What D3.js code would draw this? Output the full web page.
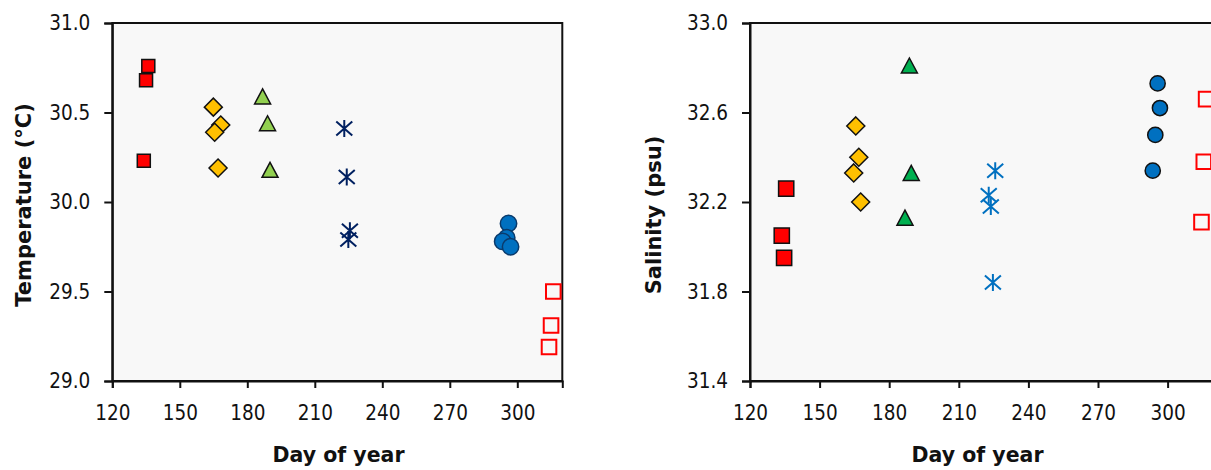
<!DOCTYPE html>
<html><head><meta charset="utf-8">
<script src="https://cdn.jsdelivr.net/npm/d3@7"></script>
<style>body{margin:0;background:#fff}svg{display:block}</style>
</head><body>
<svg id="c" width="1211" height="470"></svg>
<script>
// ---- data ----
const xTicks = [120, 150, 180, 210, 240, 270, 300];
const tempTicks = [29.0, 29.5, 30.0, 30.5, 31.0];
const salTicks = [31.4, 31.8, 32.2, 32.6, 33.0];

const tempSquareDay = [136, 135, 134];
const tempSquareVal = [30.76, 30.68, 30.23];
const tempDiamondDay = [164.9, 168.2, 165.5, 167.0];
const tempDiamondVal = [30.53, 30.43, 30.39, 30.19];
const tempTriangleDay = [186.8, 189.0, 190.1];
const tempTriangleVal = [30.59, 30.44, 30.18];
const tempStarDay = [223.1, 224.2, 225.6, 224.9];
const tempStarVal = [30.41, 30.14, 29.84, 29.79];
const tempCircleDay = [296.1, 295.3, 293.5, 297.0];
const tempCircleVal = [29.88, 29.80, 29.78, 29.75];
const tempOpenDay = [316.0, 315.0, 314.1];
const tempOpenVal = [29.50, 29.31, 29.19];

const salSquareDay = [135.6, 133.7, 134.7];
const salSquareVal = [32.26, 32.05, 31.95];
const salDiamondDay = [165.6, 166.9, 164.7, 167.7];
const salDiamondVal = [32.54, 32.40, 32.33, 32.20];
const salTriangleDay = [188.7, 189.5, 186.8];
const salTriangleVal = [32.81, 32.33, 32.13];
const salStarDay = [225.7, 222.9, 223.8, 224.7];
const salStarVal = [32.34, 32.23, 32.18, 31.84];
const salCircleDay = [295.7, 296.7, 294.7, 293.6];
const salCircleVal = [32.73, 32.62, 32.50, 32.34];
const salOpenDay = [316.6, 315.6, 314.6];
const salOpenVal = [32.66, 32.38, 32.11];

// ---- drawing ----
const svg = d3.select("#c");
const TICKFONT = "'DejaVu Sans Condensed', 'DejaVu Sans', sans-serif";
const FONT = "'DejaVu Sans', Verdana, sans-serif";

const shapes = {
  square: h => `M${-h},${-h}H${h}V${h}H${-h}Z`,
  open: h => `M${-h},${-h}H${h}V${h}H${-h}Z`,
  diamond: h => `M0,${-h}L${h},0L0,${h}L${-h},0Z`,
  triangle: h => `M0,${-h}L${h + 0.5},${h}L${-h - 0.5},${h}Z`,
  star: h => `M0,${-h}V${h}M${-h + 0.5},${-h + 1.5}L${h - 0.5},${h - 1.5}M${-h + 0.5},${h - 1.5}L${h - 0.5},${-h + 1.5}`,
  circle: h => d3.symbol(d3.symbolCircle, Math.PI * h * h)()
};

function panel(cfg) {
  const x = d3.scaleLinear().domain([120, 320]).range(cfg.xr);
  const y = d3.scaleLinear().domain(cfg.yd).range([381, 23]);
  const g = svg.append("g");
  g.append("rect").attr("x", cfg.xr[0]).attr("y", 23)
    .attr("width", cfg.xr[1] - cfg.xr[0]).attr("height", 358)
    .attr("fill", "#f8f8f8").attr("stroke", "#111").attr("stroke-width", 2);

  const ax = g.append("g").attr("transform", `translate(0,381)`)
    .call(d3.axisBottom(x).tickValues(xTicks).tickSize(7).tickPadding(17).tickFormat(d3.format("d")));
  const ay = g.append("g").attr("transform", `translate(${cfg.xr[0]},0)`)
    .call(d3.axisLeft(y).tickValues(cfg.yt).tickSize(8).tickPadding(14).tickFormat(d3.format(".1f")));
  [ax, ay].forEach(a => {
    a.select(".domain").attr("stroke", "#111").attr("stroke-width", 2);
    a.selectAll(".tick line").attr("stroke", "#111").attr("stroke-width", 2);
    a.selectAll("text").attr("font-family", TICKFONT).attr("font-size", 20.5).attr("fill", "#111");
  });

  cfg.series.forEach(s => {
    g.append("g").selectAll("path").data(s.days).join("path")
      .attr("transform", (d, i) => `translate(${x(d)},${y(s.vals[i])})`)
      .attr("d", shapes[s.shape](s.h))
      .attr("fill", s.fill).attr("stroke", s.stroke).attr("stroke-width", s.sw);
  });

  g.append("text").attr("x", cfg.xtx).attr("y", 462)
    .attr("text-anchor", "middle").attr("font-family", FONT).attr("font-weight", "bold")
    .attr("font-size", 20.5).attr("fill", "#111").text("Day of year");
  g.append("text").attr("transform", `translate(${cfg.ytx},${cfg.yty}) rotate(-90)`)
    .attr("text-anchor", "middle").attr("font-family", FONT).attr("font-weight", "bold")
    .attr("font-size", 21).attr("fill", "#111").text(cfg.ytitle);
}

panel({
  xr: [112.3, 562.3], yd: [29.0, 31.0], yt: tempTicks,
  xtx: 338.5, ytx: 31, yty: 205, ytitle: "Temperature (°C)",
  series: [
    {days: tempSquareDay, vals: tempSquareVal, shape: "square", h: 6.5, fill: "#ff0000", stroke: "#111", sw: 1.5},
    {days: tempDiamondDay, vals: tempDiamondVal, shape: "diamond", h: 9, fill: "#ffc000", stroke: "#111", sw: 1.5},
    {days: tempTriangleDay, vals: tempTriangleVal, shape: "triangle", h: 7.5, fill: "#92d050", stroke: "#111", sw: 1.5},
    {days: tempStarDay, vals: tempStarVal, shape: "star", h: 8.5, fill: "none", stroke: "#002060", sw: 2},
    {days: tempCircleDay, vals: tempCircleVal, shape: "circle", h: 8.2, fill: "#0070c0", stroke: "#0a3a6b", sw: 1.5},
    {days: tempOpenDay, vals: tempOpenVal, shape: "open", h: 7.3, fill: "none", stroke: "#ff0000", sw: 2}
  ]
});

panel({
  xr: [750, 1214], yd: [31.4, 33.0], yt: salTicks,
  xtx: 977.5, ytx: 661, yty: 215, ytitle: "Salinity (psu)",
  series: [
    {days: salSquareDay, vals: salSquareVal, shape: "square", h: 7.6, fill: "#ff0000", stroke: "#111", sw: 1.5},
    {days: salDiamondDay, vals: salDiamondVal, shape: "diamond", h: 9, fill: "#ffc000", stroke: "#111", sw: 1.5},
    {days: salTriangleDay, vals: salTriangleVal, shape: "triangle", h: 7.5, fill: "#00b050", stroke: "#111", sw: 1.5},
    {days: salStarDay, vals: salStarVal, shape: "star", h: 8.5, fill: "none", stroke: "#0070c0", sw: 2},
    {days: salCircleDay, vals: salCircleVal, shape: "circle", h: 7.6, fill: "#0070c0", stroke: "#111", sw: 1.5},
    {days: salOpenDay, vals: salOpenVal, shape: "open", h: 7.3, fill: "none", stroke: "#ff0000", sw: 2}
  ]
});
</script>
</body></html>
